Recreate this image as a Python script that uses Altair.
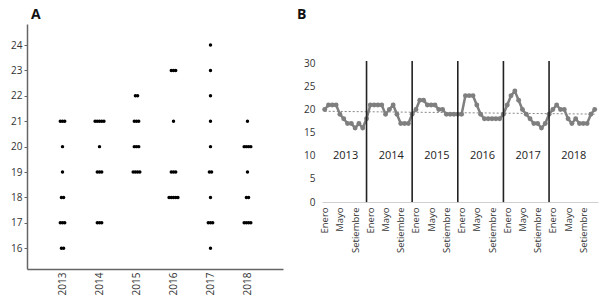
import altair as alt
import pandas as pd

years = [2013, 2014, 2015, 2016, 2017, 2018]
t2013 = [20, 21, 21, 21, 19, 18, 17, 17, 16, 17, 16, 18]
t2014 = [21, 21, 21, 21, 19, 20, 21, 19, 17, 17, 17, 19]
t2015 = [20, 22, 22, 21, 21, 21, 20, 20, 19, 19, 19, 19]
t2016 = [19, 23, 23, 23, 21, 19, 18, 18, 18, 18, 18, 19]
t2017 = [21, 23, 24, 22, 20, 19, 18, 17, 17, 16, 17, 19]
t2018 = [20, 21, 20, 20, 18, 17, 18, 17, 17, 17, 19, 20]
series = [t2013, t2014, t2015, t2016, t2017, t2018]
month_ticks = ["Enero", "Mayo", "Setiembre"]
boundaries = [11, 23, 35, 47, 59]

rows = []
for yi, (yr, vals) in enumerate(zip(years, series)):
    for m, v in enumerate(vals):
        rows.append({"year": yr, "month": m, "idx": yi * 12 + m, "temp": v})
df = pd.DataFrame(rows)

FONT = "Open Sans"
AX = "#333333"

# ---------- Panel A ----------
panel_a = (
    alt.Chart(df)
    .transform_window(rank="row_number()", groupby=["year", "temp"])
    .transform_joinaggregate(n="count()", groupby=["year", "temp"])
    .transform_calculate(xpos="datum.year + (datum.rank - 1 - (datum.n - 1) / 2) * 0.06")
    .mark_circle(size=12, color="black", opacity=1)
    .encode(
        x=alt.X(
            "xpos:Q",
            scale=alt.Scale(domain=[2012.04, 2018.96], nice=False, zero=False),
            axis=alt.Axis(
                values=years, format="d", labelAngle=-90, labelAlign="right",
                labelBaseline="middle", ticks=False, grid=False, title=None,
                domainColor="#666666", domainWidth=1.5, labelPadding=3,
                labelFontSize=10, labelColor=AX, labelOverlap=False,
            ),
        ),
        y=alt.Y(
            "temp:Q",
            scale=alt.Scale(domain=[15.18, 24.83], nice=False, zero=False),
            axis=alt.Axis(
                values=list(range(16, 25)), tickSize=3, tickColor="#666666",
                grid=False, title=None, domainColor="#666666", domainWidth=1.5,
                labelPadding=2, labelFontSize=10, labelColor=AX,
            ),
        ),
    )
    .properties(
        width=256, height=245,
        title=alt.TitleParams("A", anchor="start", frame="group", dx=4, offset=2,
                              fontSize=14, fontWeight="bold", font=FONT, color="#111111"),
    )
)

# ---------- Panel B ----------
label_expr = "[" + ",".join("'%s'" % m for m in month_ticks) + "][(datum.value % 12) / 4]"
xs = alt.Scale(domain=[-0.71, 71.87], nice=False, zero=False)
x_enc = alt.X(
    "idx:Q", scale=xs,
    axis=alt.Axis(
        values=list(range(0, 72, 4)), labelExpr=label_expr, labelAngle=-90,
        labelAlign="right", labelBaseline="middle", ticks=False, grid=False,
        title=None, domainColor="#d0d0d0", domainWidth=1, labelPadding=5,
        labelFontSize=9.5, labelColor=AX, labelOverlap=False, offset=-67,
    ),
)
ys = alt.Scale(domain=[-14.46, 38.49], nice=False, zero=False)
y_enc = alt.Y(
    "temp:Q", scale=ys,
    axis=alt.Axis(values=list(range(0, 31, 5)), ticks=False, domain=False, grid=False,
                  title=None, labelPadding=7, labelFontSize=10, labelColor=AX),
)

base = alt.Chart(df)
line = base.mark_line(color="#7f7f7f", strokeWidth=2.5).encode(x=x_enc, y=y_enc)
pts = base.mark_circle(size=24, color="#7f7f7f", opacity=1).encode(x=x_enc, y=y_enc)
trend = (
    base.transform_regression("idx", "temp")
    .mark_line(color="#888888", strokeWidth=1, strokeDash=[2, 2])
    .encode(x=x_enc, y=y_enc)
)
rules = (
    alt.Chart(pd.DataFrame({"idx": boundaries}))
    .mark_rule(color="#222222", strokeWidth=1.6)
    .encode(x=x_enc, y=alt.datum(30.5), y2=alt.datum(0))
)
year_df = pd.DataFrame({"year": [str(y) for y in years], "yi": list(range(len(years)))})
year_text = (
    alt.Chart(year_df)
    .transform_calculate(idx="datum.yi * 12 + 5.5")
    .mark_text(fontSize=11, font=FONT, color="#222222", baseline="middle", align="center")
    .encode(x=x_enc, y=alt.datum(10), text="year:N")
)

panel_b = (
    alt.layer(line, trend, pts, rules, year_text)
    .properties(
        width=276, height=245,
        title=alt.TitleParams("B", anchor="start", frame="group", dx=-25, offset=2,
                              fontSize=14, fontWeight="bold", font=FONT, color="#111111"),
    )
)

chart = (
    alt.hconcat(panel_a, panel_b, spacing=14)
    .properties(padding={"left": 10, "top": 8, "right": 5, "bottom": 5})
    .configure(font=FONT)
    .configure_view(strokeWidth=0, stroke="transparent")
    .configure_axis(labelFont=FONT)
)

chart.save("out.html", embed_options={"renderer": "svg", "actions": False})
